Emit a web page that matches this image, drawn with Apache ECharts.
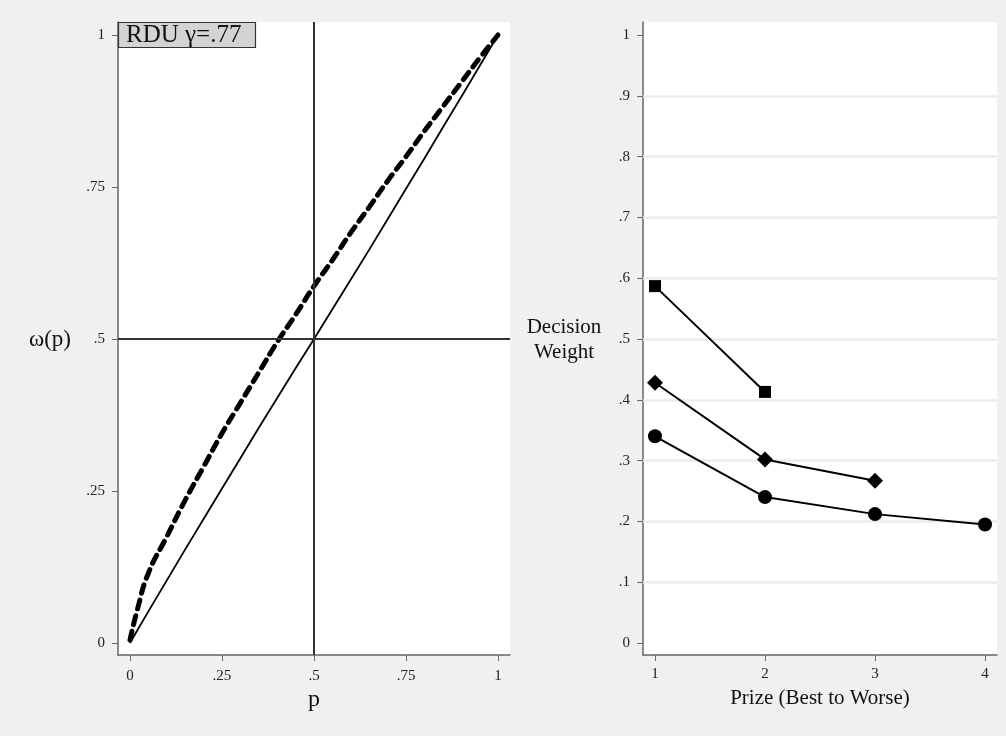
<!DOCTYPE html>
<html>
<head>
<meta charset="utf-8">
<script src="https://cdn.jsdelivr.net/npm/echarts@6/dist/echarts.min.js"></script>
<style>
html,body{margin:0;padding:0;background:#f0f0f0;}
#chart{width:1006px;height:736px;}
</style>
</head>
<body>
<div id="chart"></div>
<script>
// ---- Left panel data ----
const pValues = [0, 0.02, 0.05, 0.1, 0.15, 0.2, 0.25, 0.3, 0.35, 0.4, 0.45, 0.5, 0.55, 0.6, 0.65, 0.7, 0.75, 0.8, 0.85, 0.9, 0.95, 1];
const rduWeights = [0.005, 0.055, 0.115, 0.175, 0.235, 0.29, 0.345, 0.395, 0.445, 0.495, 0.54, 0.587, 0.63, 0.675, 0.717, 0.76, 0.80, 0.842, 0.882, 0.922, 0.962, 1.0];
const linearWeights = [0, 0.021, 0.052, 0.103, 0.154, 0.204, 0.254, 0.304, 0.354, 0.403, 0.452, 0.5, 0.549, 0.598, 0.647, 0.697, 0.747, 0.797, 0.848, 0.898, 0.949, 1.0];
const leftTicks = [0, 0.25, 0.5, 0.75, 1];
const refLine = 0.5;
const panelLabel = 'RDU \u03b3=.77';

// ---- Right panel data ----
const prizes = [1, 2, 3, 4];
const twoPrize = [0.587, 0.413];
const threePrize = [0.428, 0.302, 0.267];
const fourPrize = [0.340, 0.240, 0.212, 0.195];
const rightYTicks = [0, 0.1, 0.2, 0.3, 0.4, 0.5, 0.6, 0.7, 0.8, 0.9, 1];
const rightGridLines = [0.1, 0.2, 0.3, 0.4, 0.5, 0.6, 0.7, 0.8, 0.9];

const serif = 'Liberation Serif';
const fmt = v => {
  const r = Math.round(v * 100) / 100;
  if (r === 0) return '0';
  if (r === 1) return '1';
  return String(r).replace(/^0/, '');
};
const pairs = (xs, ys) => ys.map((y, i) => [xs[i], y]);

const axisCol = '#666';
const tickLabel = {fontFamily: serif, fontSize: 15, color: '#222'};

const chart = echarts.init(document.getElementById('chart'), null, {renderer: 'canvas'});
chart.setOption({
  backgroundColor: '#f0f0f0',
  animation: false,
  title: {
    text: panelLabel,
    left: 118, top: 22,
    padding: [1, 14, 0, 8],
    backgroundColor: '#d3d3d3',
    borderColor: '#333', borderWidth: 1.2,
    textStyle: {fontFamily: serif, fontSize: 25, fontWeight: 'normal', color: '#111', lineHeight: 25}
  },
  grid: [
    {left: 118, top: 22, width: 392, height: 633, backgroundColor: '#fff', show: true, borderWidth: 0},
    {left: 643, top: 22, width: 354, height: 633, backgroundColor: '#fff', show: true, borderWidth: 0}
  ],
  xAxis: [
    {
      gridIndex: 0, type: 'value', min: -0.0326, max: 1.0326,
      axisLine: {show: true, onZero: false, lineStyle: {color: axisCol, width: 1.5}},
      axisTick: {show: true, length: 6, customValues: leftTicks, lineStyle: {color: axisCol}},
      axisLabel: {customValues: leftTicks, formatter: fmt, margin: 14, ...tickLabel},
      splitLine: {show: false}
    },
    {
      gridIndex: 1, type: 'value', min: 0.891, max: 4.109,
      axisLine: {show: true, onZero: false, lineStyle: {color: axisCol, width: 1.5}},
      axisTick: {show: true, length: 6, customValues: prizes, lineStyle: {color: axisCol}},
      axisLabel: {customValues: prizes, formatter: v => String(v), margin: 12, ...tickLabel},
      splitLine: {show: false}
    }
  ],
  yAxis: [
    {
      gridIndex: 0, type: 'value', min: -0.0197, max: 1.0214,
      axisLine: {show: true, onZero: false, lineStyle: {color: axisCol, width: 1.5}},
      axisTick: {show: true, length: 6, customValues: leftTicks, lineStyle: {color: axisCol}},
      axisLabel: {customValues: leftTicks, formatter: fmt, margin: 13, ...tickLabel},
      splitLine: {show: false}
    },
    {
      gridIndex: 1, type: 'value', min: -0.0197, max: 1.0214,
      axisLine: {show: true, onZero: false, lineStyle: {color: axisCol, width: 1.5}},
      axisTick: {show: true, length: 6, customValues: rightYTicks, lineStyle: {color: axisCol}},
      axisLabel: {customValues: rightYTicks, formatter: fmt, margin: 13, ...tickLabel},
      splitLine: {show: false}
    }
  ],
  graphic: [
    {type: 'text', x: 50, y: 340, style: {text: '\u03c9(p)', fontFamily: serif, fontSize: 23, fill: '#111', align: 'center', verticalAlign: 'middle'}},
    {type: 'text', x: 314, y: 700, style: {text: 'p', fontFamily: serif, fontSize: 24, fill: '#111', align: 'center', verticalAlign: 'middle'}},
    {type: 'text', x: 564, y: 340, style: {text: 'Decision\nWeight', fontFamily: serif, fontSize: 21, lineHeight: 25, fill: '#111', align: 'center', verticalAlign: 'middle'}},
    {type: 'text', x: 820, y: 698, style: {text: 'Prize (Best to Worse)', fontFamily: serif, fontSize: 21, fill: '#111', align: 'center', verticalAlign: 'middle'}}
  ],
  series: [
    {
      type: 'line', xAxisIndex: 0, yAxisIndex: 0, data: pairs(pValues, linearWeights),
      showSymbol: false, symbol: 'none', smooth: false, z: 3,
      lineStyle: {color: '#000', width: 1.8}
    },
    {
      type: 'line', xAxisIndex: 0, yAxisIndex: 0, data: pairs(pValues, rduWeights),
      showSymbol: false, symbol: 'none', smooth: true, z: 4,
      lineStyle: {color: '#000', width: 5, type: [9, 7], cap: 'round'},
      markLine: {
        silent: true, symbol: 'none', animation: false,
        label: {show: false},
        lineStyle: {color: '#333', width: 2, type: 'solid'},
        data: [{xAxis: refLine}, {yAxis: refLine}]
      }
    },
    {
      type: 'line', xAxisIndex: 1, yAxisIndex: 1, data: [], z: 1,
      markLine: {
        silent: true, symbol: 'none', animation: false,
        label: {show: false},
        lineStyle: {color: '#ebebeb', width: 2.5, type: 'solid'},
        data: rightGridLines.map(v => ({yAxis: v}))
      }
    },
    {
      type: 'line', xAxisIndex: 1, yAxisIndex: 1, data: pairs(prizes, twoPrize), z: 5,
      symbol: 'rect', symbolSize: 12, itemStyle: {color: '#000'}, lineStyle: {color: '#000', width: 2}
    },
    {
      type: 'line', xAxisIndex: 1, yAxisIndex: 1, data: pairs(prizes, threePrize), z: 5,
      symbol: 'diamond', symbolSize: 16, itemStyle: {color: '#000'}, lineStyle: {color: '#000', width: 2}
    },
    {
      type: 'line', xAxisIndex: 1, yAxisIndex: 1, data: pairs(prizes, fourPrize), z: 5,
      symbol: 'circle', symbolSize: 14, itemStyle: {color: '#000'}, lineStyle: {color: '#000', width: 2}
    }
  ]
});
</script>
</body>
</html>
